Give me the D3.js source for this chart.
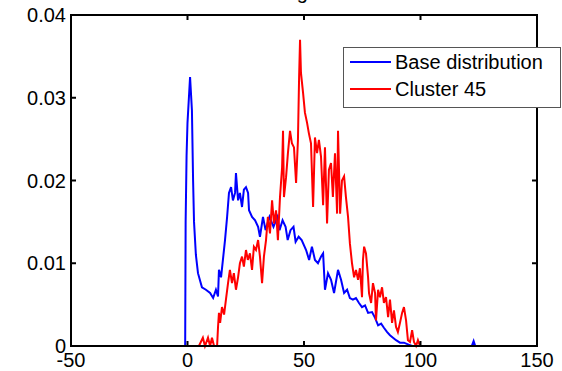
<!DOCTYPE html>
<html>
<head>
<meta charset="utf-8">
<script src="https://cdn.jsdelivr.net/npm/d3@7"></script>
<style>
  body { margin: 0; background: #fff; }
  text { font-family: "Liberation Sans", Arial, sans-serif; fill: #000; }
</style>
</head>
<body>
<div id="chart"></div>
<script>
// values
const baseX = [-1, -0.8, -0.4, 0, 1.1, 1.9, 2.4, 2.8, 3.6, 4.5, 6.2, 7.9, 9.7, 11, 12.2, 13.1, 13.5, 14.4,
  15.2, 16.1, 17, 17.8, 18.7, 19.5, 20.4, 20.8, 21.7, 22.5, 23.4, 24.2, 25.1, 26, 26.4, 27.7, 29, 30.3,
  31.1, 32.4, 33.5, 35.2, 36.9, 38.6, 39.5, 40.8, 42.1, 43, 44.2, 45.5, 46.4, 47.7, 49, 50.9, 52.2, 53.4,
  54.7, 56, 57.3, 58.2, 59, 60.3, 61.6, 62.9, 64.6, 65.9, 67.2, 68.5, 69.7, 71, 72.3, 73.6, 74.9, 76.2,
  77.5, 79.2, 80.5, 81.8, 83.1, 84.3, 85.6, 86.9, 88.2, 89.5, 91.2, 92.9, 94.6, 96.4, 122, 122.8, 123.5];
const baseY = [0, 0.015, 0.023, 0.027, 0.0325, 0.0285, 0.020, 0.015, 0.011, 0.0088, 0.0071, 0.0068, 0.0064,
  0.0058, 0.0068, 0.006, 0.0092, 0.0083, 0.0104, 0.0128, 0.0156, 0.0185, 0.0192, 0.0176, 0.0185, 0.0209,
  0.0176, 0.0185, 0.0168, 0.0189, 0.0192, 0.0185, 0.0164, 0.0156, 0.0152, 0.0144, 0.0132, 0.0156, 0.014,
  0.0156, 0.0144, 0.0156, 0.014, 0.0152, 0.0144, 0.0128, 0.014, 0.0144, 0.0126, 0.0132, 0.0128, 0.0116,
  0.0104, 0.012, 0.0104, 0.01, 0.0108, 0.0112, 0.0068, 0.0088, 0.008, 0.0064, 0.0092, 0.008, 0.0064,
  0.0068, 0.0058, 0.0056, 0.0058, 0.0052, 0.0047, 0.0049, 0.004, 0.0041, 0.0034, 0.0025, 0.0027, 0.0022,
  0.0017, 0.0013, 0.001, 0.0007, 0.0004, 0.0004, 0.0002, 0, 0, 0.0006, 0];

const clusterX = [4.9, 6.6, 7.5, 8.8, 9.7, 10.5, 11.4, 12.7, 13.1, 13.5, 14, 14.8, 15.7, 16.5, 17.4, 18.2,
  19.1, 19.9, 20.8, 21.7, 22.5, 23.4, 24.2, 25.1, 25.9, 26.8, 27.7, 28.5, 29.4, 30.3, 31.1, 32, 32.8, 33.7,
  34.5, 35.4, 36.3, 37.1, 38, 38.8, 39.7, 40.6, 41, 41.4, 42.3, 43.1, 44, 44.8, 45.7, 46.6, 47.4, 47.9,
  48.3, 48.7, 49.6, 50.4, 51.3, 52.1, 53, 53.9, 54.7, 55.6, 56.4, 57.3, 58.2, 59, 59.9, 60.7, 61.6, 62.4,
  63.3, 64.2, 64.6, 65.5, 66.3, 67.2, 68, 68.9, 69.7, 70.6, 71.5, 72.3, 73.2, 74, 74.9, 75.3, 75.8, 76.6,
  77.5, 77.9, 78.8, 79.6, 80.5, 80.9, 81.8, 82.6, 83.5, 84.3, 85.2, 86.1, 86.9, 87.8, 88.6, 89.5, 90.3,
  91.2, 92.1, 92.9, 93.8, 94.6, 95.5, 96.4, 97.2, 98.1, 98.9, 99.8];
const clusterY = [0, 0.001, 0, 0.001, 0, 0.001, 0, 0, 0.0023, 0.004, 0.0028, 0.0047, 0.0038, 0.0056, 0.0076,
  0.0092, 0.0076, 0.0088, 0.0068, 0.0083, 0.01, 0.0108, 0.0096, 0.0116, 0.0104, 0.0112, 0.0092, 0.012,
  0.0116, 0.0128, 0.0108, 0.0076, 0.0108, 0.0128, 0.0156, 0.0136, 0.0176, 0.0148, 0.0164, 0.0128, 0.018,
  0.0216, 0.026, 0.018, 0.0204, 0.0233, 0.026, 0.0245, 0.024, 0.0197, 0.0249, 0.0325, 0.037, 0.033, 0.0306,
  0.0282, 0.027, 0.0257, 0.0245, 0.0168, 0.0252, 0.0233, 0.0249, 0.0229, 0.017, 0.024, 0.0148, 0.0213,
  0.0221, 0.018, 0.0233, 0.016, 0.026, 0.016, 0.02, 0.0205, 0.018, 0.0156, 0.0124, 0.01, 0.0083, 0.0092,
  0.008, 0.0094, 0.0059, 0.0104, 0.012, 0.0112, 0.0083, 0.0064, 0.0052, 0.0076, 0.0064, 0.0031, 0.0068,
  0.0059, 0.0071, 0.0052, 0.0059, 0.0035, 0.0056, 0.0028, 0.0043, 0.0023, 0.0017, 0.0028, 0.004, 0.0047,
  0.0031, 0.0007, 0.0005, 0.0019, 0.0005, 0, 0.0007, 0];

const xTicks = [-50, 0, 50, 100, 150];
const yTicks = [0, 0.01, 0.02, 0.03, 0.04];
const seriesNames = ["Base distribution", "Cluster 45"];
const seriesColors = ["#0000ff", "#ff0000"];
const titleText = "Degree";

const width = 562;
const height = 371;
const margin = {top: 15, right: 25, bottom: 25, left: 71};

const svg = d3.select("#chart")
    .append("svg")
    .attr("width", width)
    .attr("height", height);

const x = d3.scaleLinear().domain([-50, 150]).range([margin.left, width - margin.right]);
const y = d3.scaleLinear().domain([0, 0.04]).range([height - margin.bottom, margin.top]);

// title (mostly above the window)
svg.append("text")
    .attr("x", (x.range()[0] + x.range()[1]) / 2)
    .attr("y", -1)
    .attr("text-anchor", "middle")
    .style("font-size", "20px")
    .text(titleText);

const line = d3.line()
    .x(d => x(d[0]))
    .y(d => y(d[1]));

const series = [
    d3.zip(baseX, baseY),
    d3.zip(clusterX, clusterY)
];

svg.selectAll("path.series")
    .data(series)
    .enter()
    .append("path")
    .attr("class", "series")
    .attr("d", line)
    .attr("fill", "none")
    .attr("stroke", (d, i) => seriesColors[i])
    .attr("stroke-width", 2)
    .attr("stroke-linejoin", "miter");

// box with inward ticks on every side
const [x0, x1] = x.range();
const [y0, y1] = y.range();
const tickLen = 5;

svg.append("rect")
    .attr("x", x0)
    .attr("y", y1)
    .attr("width", x1 - x0)
    .attr("height", y0 - y1)
    .attr("fill", "none")
    .attr("stroke", "#000")
    .attr("stroke-width", 2);

const ticks = svg.append("g").attr("stroke", "#000").attr("stroke-width", 2);
xTicks.forEach(t => {
    ticks.append("line").attr("x1", x(t)).attr("x2", x(t)).attr("y1", y0).attr("y2", y0 - tickLen);
    ticks.append("line").attr("x1", x(t)).attr("x2", x(t)).attr("y1", y1).attr("y2", y1 + tickLen);
});
yTicks.forEach(t => {
    ticks.append("line").attr("x1", x0).attr("x2", x0 + tickLen).attr("y1", y(t)).attr("y2", y(t));
    ticks.append("line").attr("x1", x1).attr("x2", x1 - tickLen).attr("y1", y(t)).attr("y2", y(t));
});

svg.selectAll("text.xlab")
    .data(xTicks)
    .enter()
    .append("text")
    .attr("class", "xlab")
    .attr("x", d => x(d))
    .attr("y", y0 + 21)
    .attr("text-anchor", "middle")
    .style("font-size", "20px")
    .text(d => d);

svg.selectAll("text.ylab")
    .data(yTicks)
    .enter()
    .append("text")
    .attr("class", "ylab")
    .attr("x", x0 - 5)
    .attr("y", d => y(d) + 7)
    .attr("text-anchor", "end")
    .style("font-size", "20px")
    .text(d => d === 0 ? "0" : d3.format(".2f")(d));

// legend
const legend = svg.append("g").attr("transform", "translate(343,47)");
legend.append("rect")
    .attr("x", 0.5)
    .attr("y", 0.5)
    .attr("width", 217)
    .attr("height", 60)
    .attr("fill", "#fff")
    .attr("stroke", "#555")
    .attr("stroke-width", 1);

seriesNames.forEach((name, i) => {
    const ly = 15 + i * 27;
    legend.append("line")
        .attr("x1", 7).attr("x2", 48)
        .attr("y1", ly).attr("y2", ly)
        .attr("stroke", seriesColors[i])
        .attr("stroke-width", 2);
    legend.append("text")
        .attr("x", 52)
        .attr("y", ly + 7)
        .style("font-size", "20px")
        .text(name);
});
</script>
</body>
</html>
